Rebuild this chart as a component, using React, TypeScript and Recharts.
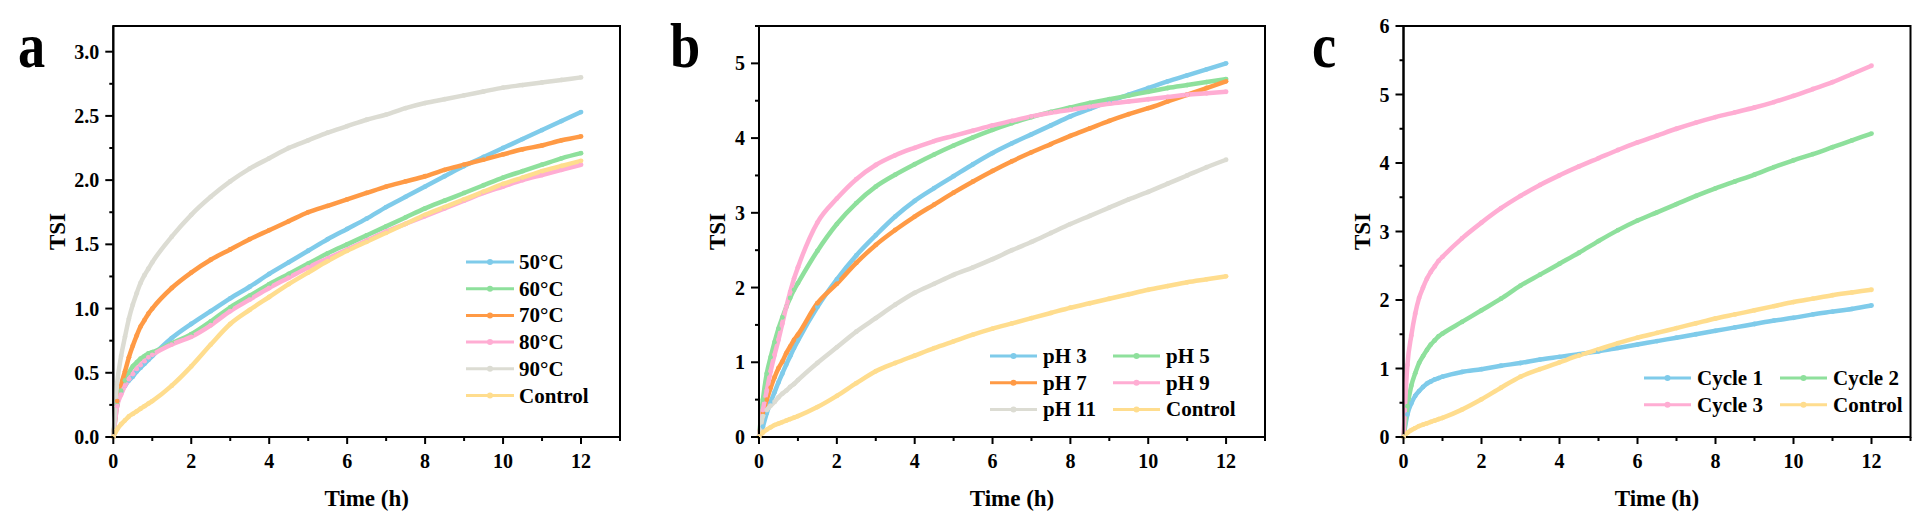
import React from 'react';
import { LineChart, Line, XAxis, YAxis, Legend, ReferenceArea } from 'recharts';

// ---------- data ----------
const TIME = [0, 0.1, 0.2, 0.3, 0.4, 0.5, 0.6, 0.7, 0.8, 0.9, 1, 1.5, 2, 2.5, 3, 3.5, 4, 4.5, 5, 5.5, 6, 6.5, 7, 7.5, 8, 8.5, 9, 9.5, 10, 10.5, 11, 11.5, 12];

const CONTROL = [0, 0.06, 0.10, 0.13, 0.16, 0.18, 0.20, 0.22, 0.24, 0.26, 0.28, 0.40, 0.55, 0.72, 0.88, 0.99, 1.09, 1.19, 1.28, 1.37, 1.45, 1.52, 1.59, 1.66, 1.73, 1.79, 1.85, 1.91, 1.97, 2.02, 2.07, 2.11, 2.15];

// panel a (temperature)
const T50 = [0, 0.28, 0.35, 0.40, 0.44, 0.47, 0.51, 0.54, 0.57, 0.60, 0.63, 0.77, 0.88, 0.98, 1.08, 1.17, 1.27, 1.36, 1.45, 1.54, 1.62, 1.70, 1.79, 1.87, 1.95, 2.03, 2.11, 2.18, 2.25, 2.32, 2.39, 2.46, 2.53];
const T60 = [0, 0.25, 0.36, 0.44, 0.50, 0.55, 0.58, 0.61, 0.63, 0.65, 0.66, 0.73, 0.80, 0.90, 1.01, 1.10, 1.19, 1.27, 1.35, 1.43, 1.50, 1.57, 1.64, 1.71, 1.78, 1.84, 1.90, 1.96, 2.02, 2.07, 2.12, 2.17, 2.21];
const T70 = [0, 0.28, 0.41, 0.51, 0.62, 0.71, 0.79, 0.86, 0.91, 0.96, 1.00, 1.16, 1.28, 1.38, 1.46, 1.54, 1.61, 1.68, 1.75, 1.80, 1.85, 1.90, 1.95, 1.99, 2.03, 2.08, 2.12, 2.16, 2.20, 2.24, 2.27, 2.31, 2.34];
const T80 = [0, 0.24, 0.33, 0.40, 0.45, 0.49, 0.53, 0.56, 0.59, 0.62, 0.64, 0.72, 0.78, 0.87, 0.98, 1.07, 1.16, 1.24, 1.32, 1.39, 1.46, 1.53, 1.60, 1.66, 1.72, 1.78, 1.84, 1.90, 1.95, 2.00, 2.04, 2.08, 2.12];
const T90 = [0, 0.42, 0.63, 0.78, 0.92, 1.03, 1.12, 1.20, 1.26, 1.31, 1.36, 1.56, 1.73, 1.87, 1.99, 2.09, 2.17, 2.25, 2.31, 2.37, 2.42, 2.47, 2.51, 2.56, 2.60, 2.63, 2.66, 2.69, 2.72, 2.74, 2.76, 2.78, 2.80];

// panel b (pH)
const PH3 = [0, 0.14, 0.32, 0.47, 0.60, 0.73, 0.85, 0.97, 1.08, 1.19, 1.29, 1.74, 2.11, 2.43, 2.70, 2.95, 3.16, 3.33, 3.49, 3.65, 3.80, 3.93, 4.05, 4.17, 4.29, 4.39, 4.49, 4.58, 4.67, 4.76, 4.84, 4.92, 5.00];
const PH5 = [0, 0.50, 0.85, 1.07, 1.27, 1.45, 1.60, 1.74, 1.86, 1.97, 2.06, 2.49, 2.85, 3.13, 3.35, 3.51, 3.65, 3.78, 3.90, 4.01, 4.11, 4.20, 4.28, 4.35, 4.41, 4.47, 4.52, 4.57, 4.62, 4.67, 4.71, 4.75, 4.79];
const PH7 = [0, 0.32, 0.50, 0.66, 0.80, 0.92, 1.01, 1.12, 1.21, 1.30, 1.37, 1.79, 2.05, 2.33, 2.57, 2.77, 2.95, 3.11, 3.27, 3.42, 3.56, 3.69, 3.81, 3.92, 4.03, 4.13, 4.23, 4.32, 4.40, 4.49, 4.58, 4.67, 4.76];
const PH9 = [0, 0.36, 0.62, 0.88, 1.10, 1.30, 1.52, 1.74, 1.94, 2.12, 2.27, 2.87, 3.19, 3.45, 3.64, 3.77, 3.87, 3.96, 4.03, 4.10, 4.17, 4.23, 4.29, 4.34, 4.38, 4.42, 4.46, 4.49, 4.52, 4.55, 4.58, 4.60, 4.62];
const PH11 = [0, 0.28, 0.36, 0.42, 0.47, 0.53, 0.58, 0.62, 0.67, 0.71, 0.76, 0.99, 1.20, 1.41, 1.59, 1.77, 1.93, 2.05, 2.17, 2.27, 2.38, 2.50, 2.61, 2.73, 2.85, 2.96, 3.07, 3.18, 3.28, 3.39, 3.50, 3.61, 3.71];

// panel c (cycles)
const CY1 = [0, 0.33, 0.49, 0.60, 0.67, 0.73, 0.78, 0.81, 0.84, 0.86, 0.88, 0.95, 0.99, 1.04, 1.08, 1.13, 1.17, 1.21, 1.25, 1.30, 1.35, 1.40, 1.45, 1.50, 1.55, 1.60, 1.65, 1.70, 1.74, 1.79, 1.83, 1.87, 1.92];
const CY2 = [0, 0.45, 0.75, 0.93, 1.08, 1.18, 1.27, 1.35, 1.41, 1.47, 1.51, 1.68, 1.85, 2.02, 2.21, 2.37, 2.53, 2.69, 2.86, 3.02, 3.16, 3.28, 3.40, 3.52, 3.63, 3.73, 3.83, 3.94, 4.04, 4.13, 4.23, 4.33, 4.43];
const CY3 = [0, 1.05, 1.48, 1.80, 2.03, 2.18, 2.31, 2.41, 2.49, 2.57, 2.63, 2.90, 3.13, 3.34, 3.52, 3.68, 3.82, 3.95, 4.07, 4.19, 4.30, 4.40, 4.50, 4.59, 4.67, 4.74, 4.81, 4.89, 4.98, 5.08, 5.18, 5.30, 5.42];

// tick values
const X_TICKS = [0, 1, 2, 3, 4, 5, 6, 7, 8, 9, 10, 11, 12, 13];
const Y_TICKS_A = [0, 0.25, 0.5, 0.75, 1, 1.25, 1.5, 1.75, 2, 2.25, 2.5, 2.75, 3];
const Y_TICKS_B = [0, 0.5, 1, 1.5, 2, 2.5, 3, 3.5, 4, 4.5, 5, 5.5];
const Y_TICKS_C = [0, 0.5, 1, 1.5, 2, 2.5, 3, 3.5, 4, 4.5, 5, 5.5, 6];

const NAMES_A = ['50\u00B0C', '60\u00B0C', '70\u00B0C', '80\u00B0C', '90\u00B0C', 'Control'];
const NAMES_B = ['pH 3', 'pH 5', 'pH 7', 'pH 9', 'pH 11', 'Control'];
const NAMES_C = ['Cycle 1', 'Cycle 2', 'Cycle 3', 'Control'];

// ---------- styles ----------
const BLUE = '#7FCBEA';
const GREEN = '#8EE09C';
const ORANGE = '#FF9A45';
const PINK = '#FFADD3';
const GRAY = '#DCDCD3';
const YELLOW = '#FFDD8E';

const FONT_FAMILY = "'Liberation Serif', 'Times New Roman', serif";
const tickText: React.CSSProperties = { fontFamily: FONT_FAMILY, fontWeight: 700, fontSize: 20, fill: '#000' };
const legendText: React.CSSProperties = { fontFamily: FONT_FAMILY, fontWeight: 700, fontSize: 21, fill: '#000' };
const titleText: React.CSSProperties = { fontFamily: FONT_FAMILY, fontWeight: 700, fontSize: 23, fill: '#000' };

const CH = 528;
const MT = 26;
const PLOT_BOTTOM = 437;
const XAXIS_H = 50;

function buildRows(series: number[][]) {
  return TIME.map((t, i) => {
    const row: Record<string, number> = { t };
    series.forEach((s, k) => {
      row['s' + k] = s[i];
    });
    return row;
  });
}

function XTick(props: any) {
  const { x, y, payload } = props;
  const v = payload.value as number;
  const major = v % 2 === 0;
  return (
    <g>
      <line x1={x} x2={x} y1={y} y2={y + (major ? 7 : 4)} stroke="#000" strokeWidth={2} />
      {major && (
        <text x={x} y={y + 31} textAnchor="middle" style={tickText}>
          {v}
        </text>
      )}
    </g>
  );
}

function makeYTick(step: number, digits: number) {
  return function YTick(props: any) {
    const { x, y, payload } = props;
    const v = payload.value as number;
    const r = v / step;
    const major = Math.abs(r - Math.round(r)) < 1e-6;
    return (
      <g>
        <line x1={x - (major ? 8 : 4)} x2={x} y1={y} y2={y} stroke="#000" strokeWidth={2} />
        {major && (
          <text x={x - 14} y={y + 7} textAnchor="end" style={tickText}>
            {v.toFixed(digits)}
          </text>
        )}
      </g>
    );
  };
}

type LegendCfg = { left: number; top: number; cols: number; colW: number; rowH: number; lineLen: number; gap: number };

function makeLegend(cfg: LegendCfg, order: string[]) {
  return function LegendContent(props: any) {
    const items: any[] = [...(props.payload || [])].sort(
      (a, b) => order.indexOf(a.value) - order.indexOf(b.value)
    );
    const rows = Math.ceil(items.length / cfg.cols);
    const w = cfg.cols * cfg.colW + 160;
    const h = rows * cfg.rowH + 10;
    return (
      <svg width={w} height={h} style={{ display: 'block', overflow: 'visible' }}>
        {items.map((it, i) => {
          const col = i % cfg.cols;
          const row = Math.floor(i / cfg.cols);
          const lx = col * cfg.colW;
          const cy = 12 + row * cfg.rowH;
          const c = it.color;
          return (
            <g key={i}>
              <line x1={lx} x2={lx + cfg.lineLen} y1={cy} y2={cy} stroke={c} strokeWidth={3} />
              <circle cx={lx + cfg.lineLen / 2} cy={cy} r={3} fill={c} />
              <text x={lx + cfg.lineLen + cfg.gap} y={cy + 7} style={legendText}>
                {it.value}
              </text>
            </g>
          );
        })}
      </svg>
    );
  };
}

type PanelProps = {
  left: number;
  width: number;
  plotLeft: number;
  plotRight: number;
  yMax: number;
  yTicks: number[];
  yStep: number;
  yDigits: number;
  series: number[][];
  names: string[];
  colors: string[];
  legend: LegendCfg;
  letter: string;
  letterX: number;
  titleX: number;
};

function Panel(p: PanelProps) {
  const data = buildRows(p.series);
  const YW = 60;
  const margin = {
    top: MT,
    right: p.width - p.plotRight,
    left: p.plotLeft - YW,
    bottom: CH - PLOT_BOTTOM - XAXIS_H,
  };
  const YTick = makeYTick(p.yStep, p.yDigits);
  return (
    <div style={{ position: 'absolute', left: p.left, top: 0, width: p.width, height: CH }}>
      <LineChart width={p.width} height={CH} data={data} margin={margin}>
        <XAxis
          dataKey="t"
          type="number"
          domain={[0, 13]}
          ticks={X_TICKS}
          interval={0}
          tickSize={0}
          tickMargin={0}
          tickLine={false}
          axisLine={{ stroke: '#000', strokeWidth: 2 }}
          tick={<XTick />}
          height={XAXIS_H}
        />
        <YAxis
          type="number"
          domain={[0, p.yMax]}
          ticks={p.yTicks}
          interval={0}
          tickSize={0}
          tickMargin={0}
          tickLine={false}
          axisLine={{ stroke: '#000', strokeWidth: 2 }}
          tick={<YTick />}
          width={YW}
        />
        <ReferenceArea x1={0} x2={13} y1={0} y2={p.yMax} fill="none" stroke="#000" strokeWidth={2} ifOverflow="visible" />
        {p.series.map((_, k) => (
          <Line
            key={k}
            type="monotone"
            dataKey={'s' + k}
            name={p.names[k]}
            stroke={p.colors[k]}
            strokeWidth={4.5}
            dot={{ r: 2.4, fill: p.colors[k], stroke: 'none' }}
            activeDot={false}
            isAnimationActive={false}
          />
        ))}
        <Legend
          layout="horizontal"
          verticalAlign="middle"
          align="center"
          content={makeLegend(p.legend, p.names)}
          wrapperStyle={{ left: p.legend.left, top: p.legend.top - 12, width: 'auto', height: 'auto' }}
        />
      </LineChart>
      <svg
        width={p.width}
        height={CH}
        style={{ position: 'absolute', left: 0, top: 0, pointerEvents: 'none', overflow: 'visible' }}
      >
        <text
          x={p.letterX}
          y={67}
          style={{ fontFamily: FONT_FAMILY, fontWeight: 700, fontSize: 64 }}
          transform={`translate(${p.letterX} 0) scale(0.85 1) translate(${-p.letterX} 0)`}
        >
          {p.letter}
        </text>
        <text
          x={p.titleX}
          y={(MT + PLOT_BOTTOM) / 2}
          textAnchor="middle"
          dominantBaseline="central"
          transform={`rotate(-90 ${p.titleX} ${(MT + PLOT_BOTTOM) / 2})`}
          style={titleText}
        >
          TSI
        </text>
        <text x={(p.plotLeft + p.plotRight) / 2} y={506} textAnchor="middle" style={titleText}>
          Time (h)
        </text>
      </svg>
    </div>
  );
}

export default function App() {
  return (
    <div style={{ position: 'absolute', left: 0, top: 0, width: 1927, height: 528, background: '#fff', overflow: 'hidden' }}>
      <Panel
        left={0}
        width={640}
        plotLeft={113.3}
        plotRight={620}
        yMax={3.2}
        yTicks={Y_TICKS_A}
        yStep={0.5}
        yDigits={1}
        series={[T50, T60, T70, T80, T90, CONTROL]}
        names={NAMES_A}
        colors={[BLUE, GREEN, ORANGE, PINK, GRAY, YELLOW]}
        legend={{ left: 466, top: 261.7, cols: 1, colW: 0, rowH: 26.7, lineLen: 48, gap: 5 }}
        letter="a"
        letterX={18}
        titleX={57}
      />
      <Panel
        left={645}
        width={640}
        plotLeft={114}
        plotRight={620}
        yMax={5.5}
        yTicks={Y_TICKS_B}
        yStep={1}
        yDigits={0}
        series={[PH3, PH5, PH7, PH9, PH11, CONTROL]}
        names={NAMES_B}
        colors={[BLUE, GREEN, ORANGE, PINK, GRAY, YELLOW]}
        legend={{ left: 345, top: 356, cols: 2, colW: 123, lineLen: 47, gap: 6, rowH: 26.7 }}
        letter="b"
        letterX={25}
        titleX={72}
      />
      <Panel
        left={1290}
        width={637}
        plotLeft={113.5}
        plotRight={620.5}
        yMax={6}
        yTicks={Y_TICKS_C}
        yStep={1}
        yDigits={0}
        series={[CY1, CY2, CY3, CONTROL]}
        names={NAMES_C}
        colors={[BLUE, GREEN, PINK, YELLOW]}
        legend={{ left: 353.7, top: 378.3, cols: 2, colW: 136, lineLen: 47, gap: 6, rowH: 26.7 }}
        letter="c"
        letterX={22}
        titleX={72}
      />
    </div>
  );
}
